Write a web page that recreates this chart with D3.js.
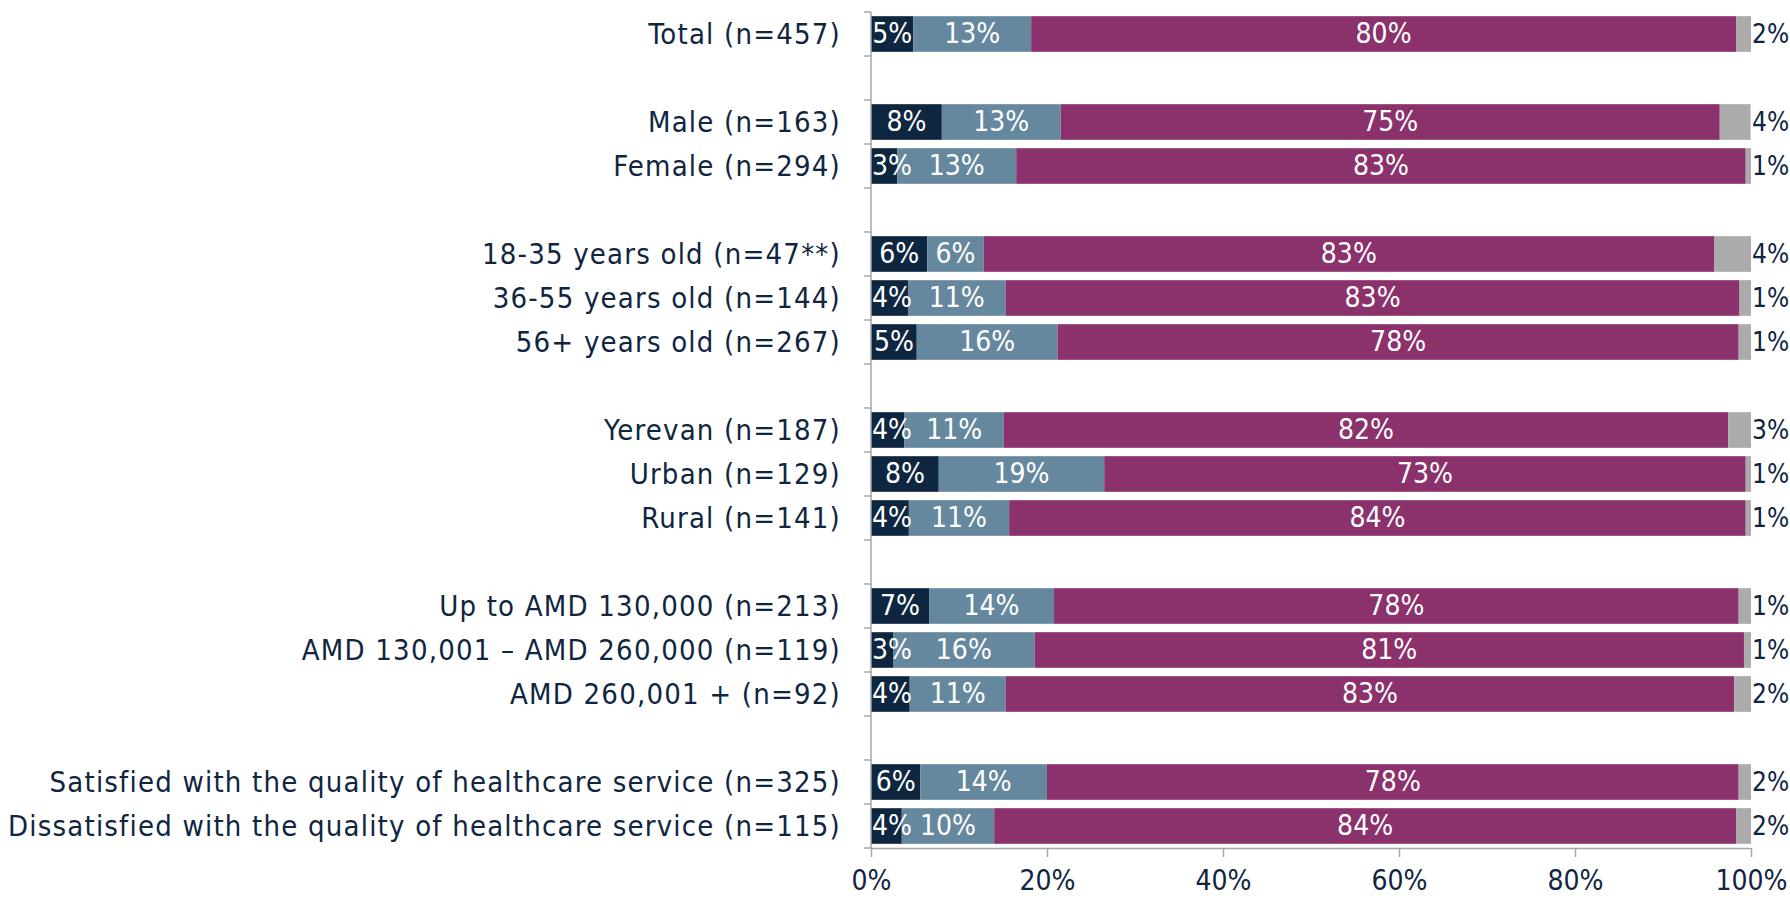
<!DOCTYPE html>
<html><head><meta charset="utf-8">
<script src="https://cdn.jsdelivr.net/npm/d3@7"></script>
<style>
body{margin:0;background:#fff;}
svg text{font-family:"DejaVu Sans Condensed","Liberation Sans Narrow",sans-serif;}
</style></head>
<body><svg id="chart" width="1790" height="900"></svg>
<script>
// Categories (in display order); null marks a blank gap row
const categories = [
  "Total (n=457)", null,
  "Male (n=163)", "Female (n=294)", null,
  "18-35 years old (n=47**)", "36-55 years old (n=144)", "56+ years old (n=267)", null,
  "Yerevan (n=187)", "Urban (n=129)", "Rural (n=141)", null,
  "Up to AMD 130,000 (n=213)", "AMD 130,001 – AMD 260,000 (n=119)", "AMD 260,001 + (n=92)", null,
  "Satisfied with the quality of healthcare service (n=325)",
  "Dissatisfied with the quality of healthcare service (n=115)"
];
const rowNames = categories.filter(d => d !== null);

// Segment values (share of respondents, %)
const seriesA = [4.8, 8.05, 3.0, 6.4, 4.2, 5.2, 3.8, 7.7, 4.3, 6.6, 2.5, 4.4, 5.6, 3.5];
const seriesB = [13.4, 13.5, 13.5, 6.4, 11.1, 16.0, 11.3, 18.8, 11.4, 14.2, 16.1, 10.9, 14.4, 10.5];
const seriesC = [80.1, 74.9, 82.9, 83.0, 83.4, 77.4, 82.3, 72.9, 83.7, 77.8, 80.6, 82.8, 78.6, 84.3];
const seriesD = [1.7, 3.5, 0.6, 4.2, 1.3, 1.4, 2.6, 0.6, 0.6, 1.4, 0.8, 1.9, 1.4, 1.7];

// Printed data labels
const labelsA = ["5%","8%","3%","6%","4%","5%","4%","8%","4%","7%","3%","4%","6%","4%"];
const labelsB = ["13%","13%","13%","6%","11%","16%","11%","19%","11%","14%","16%","11%","14%","10%"];
const labelsC = ["80%","75%","83%","83%","83%","78%","82%","73%","84%","78%","81%","83%","78%","84%"];
const labelsD = ["2%","4%","1%","4%","1%","1%","3%","1%","1%","1%","1%","2%","2%","2%"];

const xTicks = [0, 20, 40, 60, 80, 100];
const colors = ["#0f2640", "#66889e", "#8b326c", "#ababab"];
const textColor = "#10253f";

const svg = d3.select("#chart");
const slotKeys = categories.map((c, i) => c === null ? "_gap" + i : c);

const x = d3.scaleLinear().domain([0, 100]).range([871, 1751]);
const y = d3.scaleBand().domain(slotKeys).range([12, 848]).paddingInner(0.19).paddingOuter(0.095);

const series = [seriesA, seriesB, seriesC, seriesD];
const labels = [labelsA, labelsB, labelsC, labelsD];

const rows = rowNames.map((name, i) => {
  let acc = 0;
  const segs = series.map((s, k) => {
    const seg = {k, x0: acc, x1: acc + s[i], label: labels[k][i]};
    acc += s[i];
    return seg;
  });
  return {name, segs};
});

// X axis
const xAxis = d3.axisBottom(x).tickValues(xTicks).tickFormat(d => d + "%").tickSize(9).tickSizeOuter(0);
const gx = svg.append("g").attr("transform", "translate(0,848)").call(xAxis);
gx.select(".domain").attr("stroke", "#a6a6a6").attr("stroke-width", 1.5);
gx.selectAll(".tick line").attr("stroke", "#a6a6a6").attr("stroke-width", 1.5);
gx.selectAll(".tick text").attr("fill", textColor).attr("font-size", 28).attr("y", 17).attr("dy", "0.9em")
  .style("font-family", '"DejaVu Sans Condensed",sans-serif');

// Y axis line with tick marks at slot boundaries
const step = y.step();
const boundaries = d3.range(slotKeys.length + 1).map(i => 12 + i * step);

// Category labels
svg.append("g").selectAll("text").data(rows).join("text")
  .attr("x", 841).attr("y", d => y(d.name) + y.bandwidth() / 2)
  .attr("text-anchor", "end").attr("dominant-baseline", "central")
  .attr("fill", textColor).attr("font-size", 29).attr("letter-spacing", "1.2px")
  .text(d => d.name);

// Bars
const rowG = svg.append("g").selectAll("g").data(rows).join("g")
  .attr("transform", d => `translate(0,${y(d.name)})`);

rowG.selectAll("rect").data(d => d.segs).join("rect")
  .attr("x", d => x(d.x0)).attr("width", d => x(d.x1) - x(d.x0))
  .attr("y", 0).attr("height", y.bandwidth())
  .attr("fill", d => colors[d.k]);

svg.append("line").attr("x1", x(0)).attr("x2", x(0)).attr("y1", 12).attr("y2", 848)
  .attr("stroke", "#a6a6a6").attr("stroke-width", 1.5);
svg.append("g").selectAll("line").data(boundaries).join("line")
  .attr("x1", x(0) - 7).attr("x2", x(0)).attr("y1", d => d).attr("y2", d => d)
  .attr("stroke", "#a6a6a6").attr("stroke-width", 1.5);

// Labels inside segments (kept inside the plot area on the left)
rowG.selectAll("text.in").data(d => d.segs.filter(s => s.k < 3)).join("text")
  .attr("class", "in")
  .attr("y", y.bandwidth() / 2)
  .attr("text-anchor", "middle").attr("dominant-baseline", "central")
  .attr("fill", "#ffffff").attr("font-size", 28)
  .text(d => d.label)
  .attr("x", function(d) {
    const w = this.getComputedTextLength();
    return Math.max(x((d.x0 + d.x1) / 2), x(0) + w / 2 + 1);
  });

// Labels outside (last segment)
rowG.selectAll("text.out").data(d => d.segs.filter(s => s.k === 3)).join("text")
  .attr("class", "out")
  .attr("x", x(100) + 1).attr("y", y.bandwidth() / 2)
  .attr("text-anchor", "start").attr("dominant-baseline", "central")
  .attr("fill", textColor).attr("font-size", 26)
  .text(d => d.label);
</script></body></html>
